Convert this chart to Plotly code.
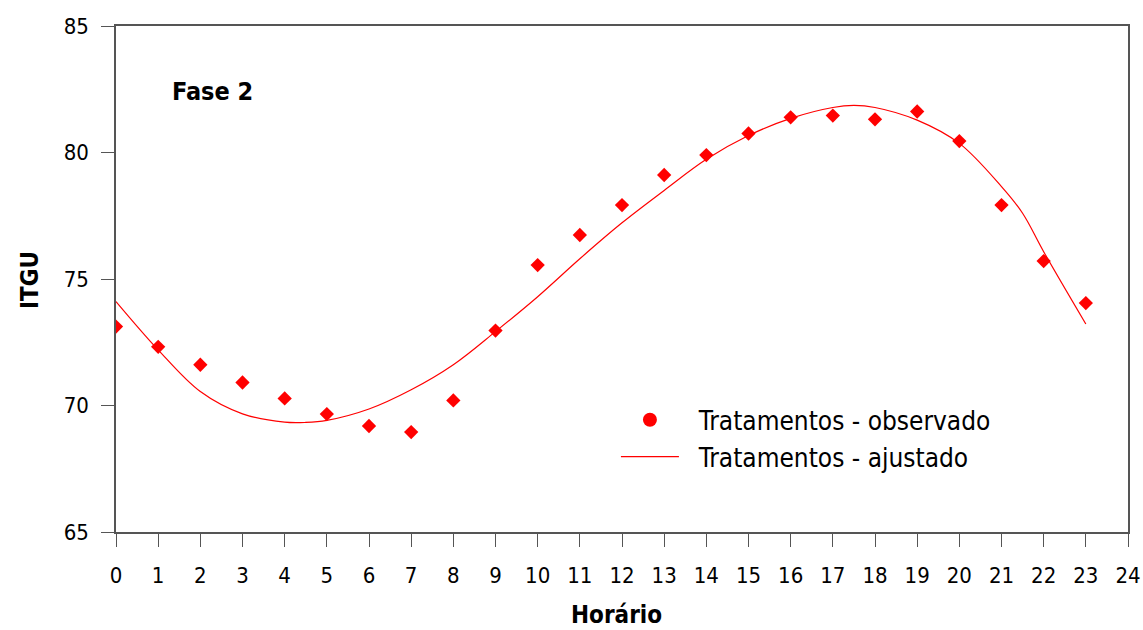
import plotly.graph_objects as go

hours = list(range(24))
observado = [73.12, 72.32, 71.61, 70.91, 70.28, 69.66, 69.19, 68.95, 70.20, 72.96,
             75.55, 76.74, 77.92, 79.11, 79.90, 80.75, 81.39, 81.46, 81.31, 81.62,
             80.45, 77.92, 75.71, 74.05]
ajustado_x = [0, 1, 2, 3, 4, 4.5, 5, 6, 7, 8, 9, 10, 11, 12, 13, 14, 15, 16, 17, 17.5,
              18, 19, 20, 21, 21.5, 22, 23]
ajustado = [74.11, 72.20, 70.55, 69.67, 69.34, 69.33, 69.41, 69.86, 70.62, 71.61, 72.92,
            74.30, 75.80, 77.22, 78.50, 79.73, 80.67, 81.35, 81.78, 81.86, 81.78, 81.28,
            80.36, 78.65, 77.60, 76.08, 73.22]
x_ticks = list(range(25))
y_ticks = [65, 70, 75, 80, 85]

FONT = "Liberation Sans Narrow, Arial Narrow, DejaVu Sans Condensed, sans-serif"

fig = go.Figure()
fig.add_trace(go.Scatter(x=hours, y=observado, mode="markers",
                         marker=dict(symbol="diamond", size=11, color="#ff0000"),
                         showlegend=False, name="Tratamentos - observado"))
fig.add_trace(go.Scatter(x=[None], y=[None], mode="markers",
                         marker=dict(symbol="circle", size=14, color="#ff0000"),
                         name="\u00a0\u00a0Tratamentos - observado"))
fig.add_trace(go.Scatter(x=ajustado_x, y=ajustado, mode="lines", line_shape="spline",
                         line=dict(color="#ff0000", width=1.2),
                         name="\u00a0\u00a0Tratamentos - ajustado"))

fig.update_layout(
    width=1143, height=630,
    margin=dict(l=116, r=15, t=26, b=98, autoexpand=False),
    paper_bgcolor="white", plot_bgcolor="white",
    font=dict(family=FONT, color="black", size=22),
    legend=dict(x=0.494, y=0.268, xanchor="left", yanchor="top",
                font=dict(size=26, family=FONT), bgcolor="rgba(0,0,0,0)",
                itemwidth=58, tracegroupgap=0),
    xaxis=dict(range=[0, 24], tickmode="array", tickvals=x_ticks,
               ticktext=[str(t) for t in x_ticks], automargin=False,
               showgrid=False, zeroline=False, showline=True, linecolor="#555",
               linewidth=1.5, mirror=True, ticks="outside", ticklen=13,
               tickcolor="#555", tickfont=dict(size=22), ticklabelstandoff=10),
    yaxis=dict(range=[65, 85], tickmode="array", tickvals=y_ticks, automargin=False,
               showgrid=False, zeroline=False, showline=True, linecolor="#555",
               linewidth=1.5, mirror=True, ticks="outside", ticklen=13,
               tickcolor="#555", tickfont=dict(size=22), ticklabelstandoff=8),
    annotations=[
        dict(text="<b>ITGU</b>", x=-0.085, y=0.498, xref="paper", yref="paper",
             textangle=-90, showarrow=False, font=dict(size=24),
             xanchor="center", yanchor="middle"),
        dict(text="<b>Horário</b>", x=0.495, y=-0.164, xref="paper", yref="paper",
             showarrow=False, font=dict(size=24), xanchor="center", yanchor="middle"),
        dict(text="<b>Fase 2</b>", x=0.095, y=0.87, xref="paper", yref="paper",
             showarrow=False, font=dict(size=25), xanchor="center", yanchor="middle"),
    ],
)

fig.write_html("out.html")
